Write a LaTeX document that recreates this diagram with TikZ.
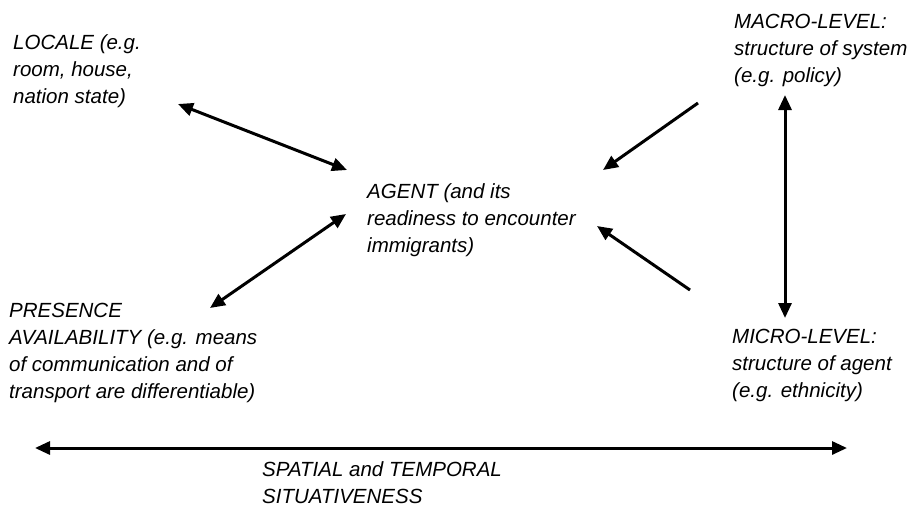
\documentclass[tikz,border=0pt]{standalone}
\usepackage{fontspec}
\setmainfont{Liberation Sans}
\usetikzlibrary{arrows.meta}

\tikzset{
  % anchored at the baseline of the last line of each block
  label text/.style={anchor=base west, align=left, inner sep=0pt,
    font=\fontsize{20.5}{27}\selectfont\itshape},
  link/.style={line width=3pt, -{Triangle[length=15pt,width=13pt]}},
  biglink/.style={line width=3pt, {Triangle[length=15pt,width=13pt]}-{Triangle[length=15pt,width=13pt]}}
}

\begin{document}
\begin{tikzpicture}[x=1pt, y=-1pt]
  \useasboundingbox (0,0) rectangle (912,507);

  % text blocks
  \node[label text] (locale) at (13,103)
    {LOCALE (e.g.\\room, house,\\nation state)};
  \node[label text] (agent) at (367,252)
    {AGENT (and its\\readiness to encounter\\immigrants)};
  \node[label text] (presence) at (9,398)
    {PRESENCE\\AVAILABILITY (e.g. means\\of communication and of\\transport are differentiable)};
  \node[label text] (macro) at (734,82)
    {MACRO-LEVEL:\\structure of system\\(e.g. policy)};
  \node[label text] (micro) at (732,397)
    {MICRO-LEVEL:\\structure of agent\\(e.g. ethnicity)};
  \node[label text] (situ) at (262,503)
    {SPATIAL and TEMPORAL\\SITUATIVENESS};

  % connector end points
  \coordinate (locA) at (178,104);
  \coordinate (locB) at (347,170);
  \coordinate (preA) at (210,308);
  \coordinate (preB) at (346,214);
  \coordinate (macS) at (698,103);
  \coordinate (macT) at (603,170);
  \coordinate (micS) at (690,290);
  \coordinate (micT) at (597,226);
  \coordinate (levTop) at (785,95);
  \coordinate (levBot) at (785,318);
  \coordinate (axL) at (35,448);
  \coordinate (axR) at (847,448);

  % connectors
  \draw[biglink] (locA) -- (locB);
  \draw[biglink] (preA) -- (preB);
  \draw[link] (macS) -- (macT);
  \draw[link] (micS) -- (micT);
  \draw[biglink] (levTop) -- (levBot);
  \draw[biglink] (axL) -- (axR);
\end{tikzpicture}
\end{document}
